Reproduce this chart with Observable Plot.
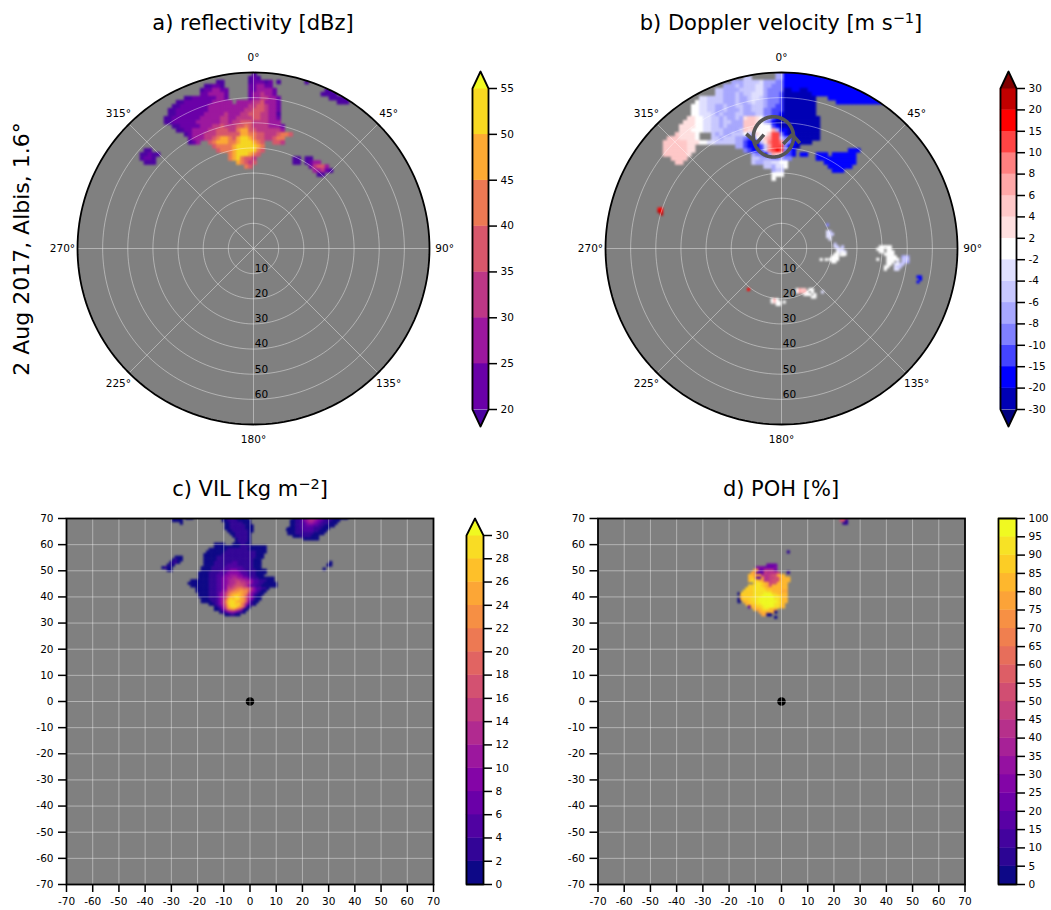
<!DOCTYPE html>
<html><head><meta charset="utf-8">
<style>
html,body{margin:0;padding:0;background:#fff;overflow:hidden}
#page{position:relative;width:1051px;height:910px;font-family:"DejaVu Sans",sans-serif;color:#000}
.pane{position:absolute}
.title{position:absolute;font-size:21px;line-height:24px;white-space:nowrap;transform:translateX(-50%)}
.title sup{font-size:14.5px;line-height:0;vertical-align:7px}
#side{position:absolute;left:21px;top:249px;font-size:22px;white-space:nowrap;transform:translate(-50%,-50%) rotate(-90deg)}
</style>
<script src="https://cdn.jsdelivr.net/npm/d3@7"></script>
<script src="https://cdn.jsdelivr.net/npm/@observablehq/plot@0.6"></script>
</head><body><div id="page"></div>
<script>
// ---- colour levels
const reflLevels=[20,25,30,35,40,45,50,55];
const reflColors=["#4c02a1","#6a00a8","#9c179e","#bd3786","#d8576b","#ed7953","#fdaa33","#f8d820","#f0f921"];
const velLevels=[-30,-20,-15,-10,-8,-6,-4,-2,2,4,6,8,10,15,20,30];
const velColors=["#000080","#0000b4","#0000ff","#4444ff","#8080ff","#a8a8ff","#c8c8ff","#e0e0ff","#ffffff","#ffe0e0","#ffc8c8","#ffa8a8","#ff8080","#ff4444","#ff0000","#c00000","#800000"];
const vilLevels=[0,2,4,6,8,10,12,14,16,18,20,22,24,26,28,30];
const pohLevels=[0,5,10,15,20,25,30,35,40,45,50,55,60,65,70,75,80,85,90,95,100];
const ticks10=[-70,-60,-50,-40,-30,-20,-10,0,10,20,30,40,50,60,70];
const ringRadii=[10,20,30,40,50,60];
const spokeAngles=[0,45,90,135,180,225,270,315];

// ---- fields: each row is "startColumn:levels"; level characters index the colour levels
const reflMain=["23:u","22:u0u","14:uu 22:u000u0 29:u","11:uu00u 22:001100","10:u001100 22:0011110","10:0011110 22:0112110",
"6:uu000000110 22:01122110","4:uu000000011111 19:11112231110","3:uu0000000111111 18:111122332110",
"2:uu00000000111111111223332110","2:uu0000000111112111223332211u","1:uu000000011111221122223322110",
"1:uu000000111111221223332222111","3:uu00000111223222334322221110","4:uu0011112233322455332222221",
"6:u01112223333335544332223443","7:011122345543566543322344","7:u01 12:34555445666543 28:332",
"13:3444456666654","14:344456666643","17:45666543","17:4564332","19:54323","21:43"];
const reflLeft=["1:uu","0:uu0uu","0:u00u","1:uuu"];
const reflRight=["0:uu 3:uu","0:uu 3:u011","4:02331","5:1120u","6:uu"];
const reflTop=["1:uu","0:uuuu","2:uuuuu","4:uuu"];
const reflDot=["0:u"];

const velMain=["28:44 30:111111111","20:55 28:44 30:1111111111111111","17:4445555644433 30:1111111111111111111",
"15:444545556644333 30:111111111111111111111","13:55444455556643333 30:0011001 37:11111111111111111",
"13:55444545566643332 30:0000000 37:111111111111111111","9:665555444544566543332 30:00000000 41:11111111111111",
"8:7665555444544565543332 30:00000000 43:111111111111","7:77665544544554455543322 30:00000000",
"7:77665544544454455533222 30:00000000","7:77666545444554445533221 30:00000000",
"6:887766554544548998744210 30:000000000","5:8887766554554449998743100 30:000000000",
"4:88887766554544449998777210 30:000000000","4:88877766555444459897777a41 30:100000000",
"3:988887 12:545445557558779cc3 30:101000000","1:99988887 12:55455544322779acc5 30:331000000",
"0:99999988877665555544211158bccb 30:4311000","0:99999988 18:44211125accc 30:3110",
"0:99999988 20:321125bcdc 30:321 46:111","0:9999998 22:43314a99 30:221 34:11 38:111 42:111111",
"2:9999 22:55444334 30:33 38:1111111111","3:99 22:54455667 30:7 40:11111111",
"25:55466 30:7 41:111111","27:455 42:111","27:777","27:7"];
const velRed=["0:dd","0:ed","1:e"];
const velD=["1:77777","0:777 4:77","1:77 4:777","3:7777","4:7777 10:454","0:7 4:77777 10:55 12:5","4:777 8:6 10:554","4:77 7:6755","3:77 7:655","3:7 7:66"];
const velB=["1:5","1:65 4:5","2:665","2:7676","1:77 5:7"];
const velA=["0:65","0:665","0:66","1:6"];
const velAtop=["0:3"];
const velC=["1:777","0:7777","1:77"];
const velCdot=["0:77"];
const velCside=["0:7 2:7"];
const velFar=["0:11","1:1","0:1"];
const velE=["0:7a7","0:7977","2:77"];
const velEdot=["0:7"];
const velF=["0:7a99 5:77","0:7a9a7 6:7","3:777 7:7","6:77"];
const velFdot=["0:6"];
const velRedDot=["0:d"];

const vilMain=["13:0001100000","13:00111100000","14:0011111000","14:00111111000","14:00111111000","15:0011111100","16:00111110",
"17:0111110","18:011110","18:011110","10:0000 17:0001100","10:000000 16:00001111000000","8:0000000111111110000000",
"7:00000001111111111110000","6:00000001111111111111000","6:00000111111111111111000","6:0000011111111111111000",
"6:0000111111122111111000","6:0000111112222111111000","5:00001111122222221111000","5:0000111122244422211110000",
"4:00001111222444442221110000","4:0000111222445554422111000","4:00001112244556655442211000 30:000",
"1:00000001112244566776655422111000",
"0:0000000011122445667877664221100000",
"1:000000011122446678887642211000000",
"3:0000011122447789aa9986422110",
"3:000001112255 15:89abbcbb 23:8542100","4:0000111245 14:79bccdcb 22:a642100","4:0000111245 14:7acdedcb 22:854100",
"5:000111246 14:8cedeecb 22:854100","5:000011246 14:adeedccb 22:84100","8:001246 14:9deedeb9 22:5210",
"10:0125 14:8ceeecb8 22:20","10:0014 14:6abca86 21:10","12:0124554210","14:001100"];
const vilTopRight=["2:011223566543211100000","1:0011245665432111000","1:001122455432111000","1:00112233322110000",
"0:0001122222111000","0:000111222211000","0:00011111110000","2:0001111000","6:000000"];
const vilStreak=["6:000","5:0100","4:0110","3:010","1:0100","3:00"];
const vilTopLeft=["0:0000 5:0 6:00","0:0000","3:0"];
const vilSpeck=["1:0","0:00"];
const vilDot=["0:0"];

const pohMain=["12:4444","8:55544445","7:ff44 11:88884","6:ff333988889","5:ggfff8889aaggg","5:ghg33f8899aagggg","5:gihhff889aaagggg",
"7:hiihgf9aagggg","5:hhiiihgfagggggg","4:hhhiiiihgggggggg","3:hhhhiiiiihhggggff","1:0 2:hhhhhiiiijjjhhgggg","2:ghhhhiiijjjjjiihgg",
"1:0 2:ghhhiiijjjjjjiihgg","1:0 3:gghhiijjjjjjjihgg","4:gghhiijjjjjiihg","5:3gghhijjjjiigg","7:gfghiiggf","9:fggfgf0","10:ff 12:00","15:0"];
const pohDot1=["0:1"];
const pohDot2=["0:1"];
const pohTop=["0:aaa","0:ab 2:1","1:11"];

// ---- arrow marking the rotation signature
const rotationCentre={x:-3.2,y:44.4}, rotationRadius=8;
const chevronLeft=[[-14,45.6],[-9.9,41.9],[-7,45.3]];
const chevronRight=[[.7,41.6],[4.3,45.3],[7.3,41.9]];

const GRID="#ffffff", GRIDOP=.4, GRAY="#808080";
const CH="0123456789abcdefghij";
function cells(blobs,levels){
  const out=[];
  for(const b of blobs) b.rows.forEach((row,j)=>{
    row.split(" ").filter(Boolean).forEach(tok=>{
      const [s,chars]=tok.split(":");
      [...chars].forEach((c,k)=>{
        const i=+s+k, v=c==="u"?levels[0]-1:(levels[CH.indexOf(c)]+levels[CH.indexOf(c)+1])/2;
        out.push({x1:b.x+i*b.step,x2:b.x+(i+1)*b.step,y1:b.y-(j+1)*b.step,y2:b.y-j*b.step,v});
      });
    });
  });
  return out;
}
const page=document.getElementById("page");
function place(el,left,top){const d=document.createElement("div");d.className="pane";d.style.left=left+"px";d.style.top=top+"px";d.append(el);page.append(d);}
function title(html,cx,top){const d=document.createElement("div");d.className="title";d.innerHTML=html;d.style.left=cx+"px";d.style.top=top+"px";page.append(d);}
const baseStyle={fontFamily:"'DejaVu Sans',sans-serif",fontSize:"10.5px",color:"#000",background:"transparent",overflow:"visible",maxWidth:"none",height:"auto"};
const circlePts=(r,cx=0,cy=0)=>d3.range(0,361,2).map(a=>({r,x:cx+r*Math.sin(a*Math.PI/180),y:cy+r*Math.cos(a*Math.PI/180)}));
function soften(plot,clip){
  const g=plot.querySelector('g[aria-label="rect"]');
  g.style.filter="blur(.8px)";
  if(clip){
    const id="clip"+clip.id, ns="http://www.w3.org/2000/svg";
    const cp=document.createElementNS(ns,"clipPath");cp.id=id;
    const c=document.createElementNS(ns,"circle");c.setAttribute("cx",clip.cx);c.setAttribute("cy",clip.cy);c.setAttribute("r",clip.r);
    cp.append(c);plot.append(cp);
    const wrap=document.createElementNS(ns,"g");wrap.setAttribute("clip-path",`url(#${id})`);
    g.replaceWith(wrap);wrap.append(g);
  }
}
function polar({left,cx,blobs,levels,colors,extra=[]}){
  const data=cells(blobs,levels);
  const R=176, top=40, w=470, h=430;
  const plot=Plot.plot({width:w,height:h,marginLeft:cx-R-left,marginRight:w-(cx+R-left),marginTop:248-R-top,marginBottom:h-(248+R-top),
    x:{domain:[-70,70],axis:null},y:{domain:[-70,70],axis:null},
    color:{type:"threshold",domain:levels,range:colors},style:baseStyle,
    marks:[
      Plot.line(circlePts(70),{x:"x",y:"y",fill:GRAY,stroke:"none"}),
      Plot.rect(data,{x1:"x1",x2:"x2",y1:"y1",y2:"y2",fill:"v",inset:-.25}),
      Plot.line(ringRadii.flatMap(r=>circlePts(r)),{x:"x",y:"y",z:"r",stroke:GRID,strokeOpacity:GRIDOP,strokeWidth:1}),
      Plot.link(spokeAngles,{x1:0,y1:0,x2:a=>70*Math.sin(a*Math.PI/180),y2:a=>70*Math.cos(a*Math.PI/180),stroke:GRID,strokeOpacity:GRIDOP,strokeWidth:1}),
      ...extra,
      Plot.line(circlePts(70),{x:"x",y:"y",stroke:"#000",strokeWidth:1.8}),
      Plot.text(spokeAngles,{x:a=>76*Math.sin(a*Math.PI/180),y:a=>76*Math.cos(a*Math.PI/180),text:a=>a+"°",fill:"#000"}),
      Plot.text(ringRadii,{x:()=>3.2,y:r=>-(r-2),text:r=>String(r),fill:"#000"})
    ]});
  soften(plot,{id:"p"+left,cx:cx-left,cy:248-top,r:R});
  place(plot,left,top);
}
function cart({left,x0,blobs,levels,colors,dotR=4.3}){
  const top=500,w=440,h=410,x1=x0+367;
  const plot=Plot.plot({width:w,height:h,marginLeft:x0-left,marginRight:w-(x1-left),marginTop:518-top,marginBottom:h-(884-top),
    x:{domain:[-70,70]},y:{domain:[-70,70]},
    color:{type:"threshold",domain:levels,range:colors},style:baseStyle,
    marks:[
      Plot.frame({fill:GRAY,stroke:"none"}),
      Plot.rect(cells(blobs,levels),{x1:"x1",x2:"x2",y1:"y1",y2:"y2",fill:"v",inset:-.25,clip:"frame"}),
      Plot.dot([{x:0,y:0}],{x:"x",y:"y",r:dotR,fill:"#000"}),
      Plot.gridX(ticks10,{stroke:GRID,strokeOpacity:GRIDOP,strokeWidth:1}),
      Plot.gridY(ticks10,{stroke:GRID,strokeOpacity:GRIDOP,strokeWidth:1}),
      Plot.axisX(ticks10,{tickSize:8,tickPadding:5,strokeWidth:1.5,tickFormat:String,label:null,fontSize:10.5}),
      Plot.axisY(ticks10,{tickSize:8,tickPadding:5,strokeWidth:1.5,tickFormat:String,label:null,fontSize:10.5}),
      Plot.frame({stroke:"#000",strokeWidth:1.8})
    ]});
  soften(plot);
  place(plot,left,top);
}
function colorbar({left,barW,apexTop,top,bottom,apexBottom,labels,colors,under,over}){
  const n=labels.length-1, pxPer=(bottom-top)/n, svgTop=apexTop-4, w=barW+60, h=(apexBottom+4)-svgTop;
  const tTop=(top-apexTop)/pxPer, tBot=(apexBottom-bottom)/pxPer;
  const outline=[[0,0]];
  if(under) outline.push([.5,-tBot]);
  outline.push([1,0],[1,n]);
  if(over) outline.push([.5,n+tTop]);
  outline.push([0,n],[0,0]);
  const plot=Plot.plot({width:w,height:h,marginLeft:2,marginRight:w-2-barW,marginTop:top-svgTop,marginBottom:(apexBottom+4)-bottom,
    x:{domain:[0,1],axis:null},y:{domain:[0,n]},style:baseStyle,
    marks:[
      Plot.rect(d3.range(n),{x1:0,x2:1,y1:i=>i,y2:i=>i+1,fill:i=>colors[i],inset:-.2}),
      ...(under?[Plot.line([[0,0],[.5,-tBot],[1,0]],{x:"0",y:"1",fill:under,stroke:"none"})]:[]),
      ...(over?[Plot.line([[0,n],[.5,n+tTop],[1,n]],{x:"0",y:"1",fill:over,stroke:"none"})]:[]),
      Plot.line(outline,{x:"0",y:"1",stroke:"#000",strokeWidth:1.8}),
      Plot.axisY(d3.range(n+1),{anchor:"right",tickFormat:i=>String(labels[i]),tickSize:8,tickPadding:4,strokeWidth:1.5,label:null,fontSize:10.5})
    ]});
  place(plot,left-2,svgTop);
}

// --- a) reflectivity
polar({left:0,cx:253,levels:reflLevels,colors:reflColors,blobs:[
  {x:-37,y:70,step:1.6,rows:reflMain},{x:-45,y:39.6,step:1.6,rows:reflLeft},{x:15.8,y:36.4,step:1.6,rows:reflRight},
  {x:27,y:63.6,step:1.6,rows:reflTop},{x:20.6,y:66.8,step:1.6,rows:reflDot}]});
colorbar({left:472,barW:16,apexTop:71,top:88,bottom:409,apexBottom:426,labels:reflLevels,colors:reflColors.slice(1,-1),under:reflColors[0],over:reflColors.at(-1)});

// --- b) Doppler velocity
const rot=[
  Plot.line(circlePts(rotationRadius,rotationCentre.x,rotationCentre.y),{x:"x",y:"y",stroke:"#555",strokeWidth:3.6}),
  Plot.line(chevronLeft,{x:"0",y:"1",stroke:"#555",strokeWidth:3.6,strokeLinejoin:"miter",strokeLinecap:"butt"}),
  Plot.line(chevronRight,{x:"0",y:"1",stroke:"#555",strokeWidth:3.6,strokeLinejoin:"miter",strokeLinecap:"butt"})
];
polar({left:530,cx:781,levels:velLevels,colors:velColors,extra:rot,blobs:[
  {x:-46.9,y:70,step:1.6,rows:velMain},{x:-49,y:16,step:1,rows:velRed},{x:38,y:1,step:1,rows:velD},{x:20,y:2,step:1,rows:velB},
  {x:18,y:7,step:1,rows:velA},{x:18,y:9.7,step:1,rows:velAtop},{x:19,y:-3,step:1,rows:velC},{x:23.4,y:-2.2,step:1,rows:velCdot},
  {x:15.5,y:-4.1,step:1,rows:velCside},{x:54,y:-11,step:1,rows:velFar},{x:-4,y:-20,step:1,rows:velE},{x:.8,y:-21,step:1,rows:velEdot},
  {x:6,y:-16,step:1,rows:velF},{x:16,y:-17,step:1,rows:velFdot},{x:-13.4,y:-16,step:1,rows:velRedDot}]});
colorbar({left:1000,barW:16,apexTop:71,top:88,bottom:409,apexBottom:426,labels:velLevels,colors:velColors.slice(1,-1),under:velColors[0],over:velColors.at(-1)});

// --- c) VIL
const vilColors=d3.quantize(d3.interpolatePlasma,16);
cart({left:20,x0:66,levels:vilLevels,colors:[vilColors[0],...vilColors.slice(0,15),vilColors[15]],blobs:[
  {x:-23.5,y:70.5,step:1,rows:vilMain},{x:14.5,y:70.5,step:1,rows:vilTopRight},{x:-34.5,y:55.5,step:1,rows:vilStreak},
  {x:-29.5,y:70.5,step:1,rows:vilTopLeft},{x:29.5,y:53.5,step:1,rows:vilSpeck},{x:28,y:51,step:1,rows:vilDot},{x:14,y:66,step:1,rows:vilDot}]});
colorbar({left:466,barW:17,apexTop:518,top:535,bottom:884,apexBottom:884,labels:vilLevels,colors:vilColors.slice(0,15),over:vilColors[15]});

// --- d) POH
const pohColors=d3.quantize(d3.interpolatePlasma,20);
cart({left:555,x0:597.5,levels:pohLevels,colors:[pohColors[0],...pohColors,pohColors[19]],blobs:[
  {x:-17.5,y:52.5,step:1,rows:pohMain},{x:2.3,y:57.5,step:1,rows:pohDot1},{x:2.3,y:49.7,step:1,rows:pohDot2},{x:22.5,y:70.5,step:1,rows:pohTop}]});
colorbar({left:998,barW:18,apexTop:518,top:518,bottom:884,apexBottom:884,labels:pohLevels,colors:pohColors});

title("a) reflectivity [dBz]",253,11);
title("b) Doppler velocity [m s<sup>−1</sup>]",781,11);
title("c) VIL [kg m<sup>−2</sup>]",250,477);
title("d) POH [%]",781,477);
const side=document.createElement("div");side.id="side";side.textContent="2 Aug 2017, Albis, 1.6°";page.append(side);
</script></body></html>
